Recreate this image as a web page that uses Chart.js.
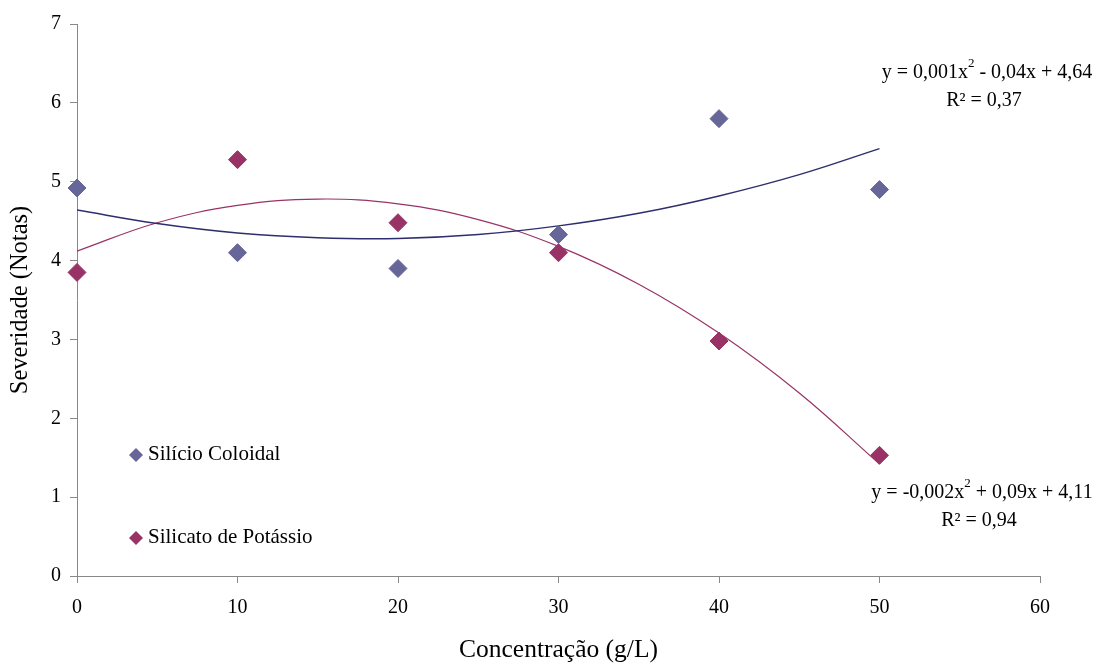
<!DOCTYPE html>
<html>
<head>
<meta charset="utf-8">
<script src="https://cdn.jsdelivr.net/npm/chart.js"></script>
<style>
  html, body { margin: 0; padding: 0; background: #fff; }
</style>
</head>
<body>
<canvas id="chart" width="1100" height="664"></canvas>
<script>
// Data
const concentracoes = [0, 10, 20, 30, 40, 50];
const silicioColoidal = [4.92, 4.10, 3.90, 4.33, 5.80, 4.90];
const silicatoPotassio = [3.85, 5.28, 4.48, 4.10, 2.98, 1.53];

// Trend lines (polynomial, as drawn in the picture)
const trendX = [0, 5, 10, 15, 20, 25, 30, 35, 40, 45, 50];
const trendSilicio = [4.64, 4.47, 4.35, 4.29, 4.28, 4.33, 4.44, 4.60, 4.82, 5.09, 5.42];
const trendSilicato = [4.12, 4.48, 4.70, 4.78, 4.72, 4.52, 4.18, 3.70, 3.08, 2.32, 1.42];

const xTicks = [0, 10, 20, 30, 40, 50, 60];
const yTicks = [0, 1, 2, 3, 4, 5, 6, 7];

const seriesNames = ['Silício Coloidal', 'Silicato de Potássio'];
const seriesColors = ['#666699', '#993366'];
const trendColors = ['#2e2e6e', '#993366'];

// equation text: [before superscript, superscript, after], then R² line
const equations = [
    { parts: ['y = 0,001x', '2', ' - 0,04x + 4,64'], r2: 'R² = 0,37', cx: 987, cy: 73 },
    { parts: ['y = -0,002x', '2', ' + 0,09x + 4,11'], r2: 'R² = 0,94', cx: 982, cy: 493 }
];

const serif = '"Liberation Serif", "Times New Roman", serif';

function toPoints(xs, ys) {
    return xs.map((x, i) => ({ x: x, y: ys[i] }));
}

// Legend and trend-line equations drawn on top of the chart
const textLayer = {
    id: 'textLayer',
    afterDraw(chart) {
        const ctx = chart.ctx;
        ctx.save();
        ctx.fillStyle = '#000';
        ctx.textBaseline = 'middle';

        // legend inside plot
        const legendRows = [455, 538];
        seriesNames.forEach((name, i) => {
            const y = legendRows[i];
            ctx.fillStyle = seriesColors[i];
            ctx.beginPath();
            ctx.moveTo(129, y);
            ctx.lineTo(136, y - 7);
            ctx.lineTo(143, y);
            ctx.lineTo(136, y + 7);
            ctx.closePath();
            ctx.fill();
            ctx.fillStyle = '#000';
            ctx.font = '21px ' + serif;
            ctx.textAlign = 'left';
            ctx.fillText(name, 148, y - 1);
        });

        // equations
        equations.forEach(eq => {
            const big = '20px ' + serif;
            const small = '13px ' + serif;
            ctx.font = big;
            const w1 = ctx.measureText(eq.parts[0]).width;
            const w3 = ctx.measureText(eq.parts[2]).width;
            ctx.font = small;
            const w2 = ctx.measureText(eq.parts[1]).width;
            let x = eq.cx - (w1 + w2 + w3) / 2;
            ctx.textAlign = 'left';
            ctx.font = big;
            ctx.fillText(eq.parts[0], x, eq.cy);
            x += w1;
            ctx.font = small;
            ctx.fillText(eq.parts[1], x, eq.cy - 9);
            x += w2;
            ctx.font = big;
            ctx.fillText(eq.parts[2], x, eq.cy);
            ctx.textAlign = 'center';
            ctx.fillText(eq.r2, eq.cx - 3, eq.cy + 28);
        });
        ctx.restore();
    }
};

const ctx = document.getElementById('chart').getContext('2d');
new Chart(ctx, {
    type: 'scatter',
    data: {
        datasets: [{
            label: seriesNames[0],
            data: toPoints(concentracoes, silicioColoidal),
            backgroundColor: seriesColors[0],
            borderColor: seriesColors[0],
            pointStyle: 'rectRot',
            pointRadius: 9,
            clip: false,
            order: 0
        }, {
            label: seriesNames[1],
            data: toPoints(concentracoes, silicatoPotassio),
            backgroundColor: seriesColors[1],
            borderColor: seriesColors[1],
            pointStyle: 'rectRot',
            pointRadius: 9,
            clip: false,
            order: 0
        }, {
            type: 'line',
            label: 'trend1',
            data: toPoints(trendX, trendSilicio),
            borderColor: trendColors[0],
            borderWidth: 1.5,
            pointRadius: 0,
            tension: 0.4,
            fill: false,
            order: 1
        }, {
            type: 'line',
            label: 'trend2',
            data: toPoints(trendX, trendSilicato),
            borderColor: trendColors[1],
            borderWidth: 1.2,
            pointRadius: 0,
            tension: 0.4,
            fill: false,
            order: 1
        }]
    },
    options: {
        responsive: false,
        animation: false,
        layout: { padding: { top: 24, right: 60, left: 0, bottom: 0 } },
        plugins: {
            legend: { display: false },
            tooltip: { enabled: false }
        },
        scales: {
            x: {
                type: 'linear',
                min: 0,
                max: 60,
                afterBuildTicks: s => { s.ticks = xTicks.map(v => ({ value: v })); },
                afterFit: s => { s.height = 88; },
                border: { color: '#888', width: 1 },
                grid: { drawOnChartArea: false, tickLength: 7, color: '#888' },
                ticks: { color: '#000', padding: 13, font: { family: serif, size: 20 } },
                title: {
                    display: true,
                    text: 'Concentração (g/L)',
                    color: '#000',
                    font: { family: serif, size: 25.5, lineHeight: 1 },
                    padding: { top: 0, bottom: 1 }
                }
            },
            y: {
                type: 'linear',
                min: 0,
                max: 7,
                afterBuildTicks: s => { s.ticks = yTicks.map(v => ({ value: v })); },
                afterFit: s => { s.width = 77; },
                border: { color: '#888', width: 1 },
                grid: { drawOnChartArea: false, tickLength: 7, color: '#888' },
                ticks: { color: '#000', padding: 9, font: { family: serif, size: 20 } },
                title: {
                    display: true,
                    text: 'Severidade (Notas)',
                    color: '#000',
                    font: { family: serif, size: 24.5, lineHeight: 1 },
                    padding: { top: 8, bottom: 0 }
                }
            }
        }
    },
    plugins: [textLayer]
});
</script>
</body>
</html>
